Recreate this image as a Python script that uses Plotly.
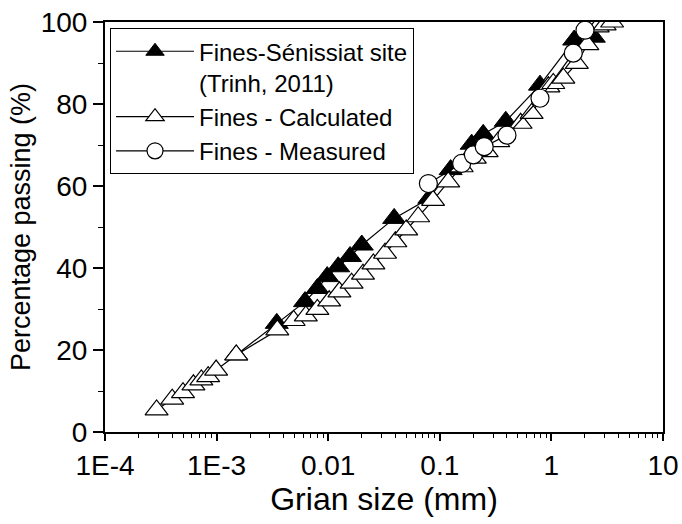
import plotly.graph_objects as go

# ---- data ----
sen_x = [1.5e-3, 3.46e-3, 6.2e-3, 8.0e-3, 9.8e-3, 0.0123, 0.0157, 0.020, 0.039, 0.0805,
         0.125, 0.193, 0.245, 0.39, 0.79, 1.6, 2.4]
sen_y = [18.8, 26.5, 31.8, 35.0, 37.9, 40.3, 42.8, 45.6, 52.1, 57.0,
         64.0, 70.2, 72.6, 75.8, 84.6, 95.6, 96.3]

calc_x = [2.9e-4, 4.0e-4, 5.0e-4, 6.2e-4, 7.3e-4, 8.4e-4, 9.9e-4, 1.5e-3, 3.5e-3, 4.9e-3,
          6.3e-3, 8.0e-3, 0.0102, 0.0126, 0.0162, 0.0205, 0.0254, 0.0323, 0.040, 0.050,
          0.064, 0.087, 0.119, 0.157, 0.206, 0.263, 0.334, 0.53, 0.665, 0.94,
          1.04, 1.28, 1.69, 2.1, 2.6, 3.0, 3.5]
calc_y = [5.4, 8.0, 9.6, 11.5, 12.7, 13.5, 15.1, 18.8, 24.9, 27.2,
          28.3, 29.9, 32.0, 34.2, 36.3, 38.5, 41.0, 43.6, 46.4, 49.3,
          52.5, 56.5, 61.0, 64.7, 66.8, 68.4, 70.8, 75.3, 77.7, 84.2,
          85.0, 86.3, 89.9, 94.5, 98.8, 99.3, 100.0]

meas_x = [0.079, 0.157, 0.20, 0.25, 0.40, 0.79, 1.57, 2.0]
meas_y = [60.6, 65.5, 67.6, 69.6, 72.4, 81.4, 92.4, 98.0]

x_tickvals = [1e-4, 1e-3, 1e-2, 1e-1, 1, 10]
x_ticktext = ["1E-4", "1E-3", "0.01", "0.1", "1", "10"]
y_tickvals = [0, 20, 40, 60, 80, 100]

minor_x = [m * d for d in [1e-4, 1e-3, 1e-2, 1e-1, 1] for m in range(2, 10)]

FONT = "Liberation Sans"

fig = go.Figure()
fig.add_trace(go.Scatter(
    x=sen_x, y=sen_y, mode="lines+markers",
    name="Fines-Sénissiat site<br>(Trinh, 2011)",
    line=dict(color="black", width=1.2),
    marker=dict(symbol="triangle-up", size=20, color="black",
                line=dict(color="black", width=1))))
fig.add_trace(go.Scatter(
    x=calc_x, y=calc_y, mode="lines+markers",
    name="Fines - Calculated",
    line=dict(color="black", width=1.2),
    marker=dict(symbol="triangle-up", size=20, color="white",
                line=dict(color="black", width=1.2))))
fig.add_trace(go.Scatter(
    x=meas_x, y=meas_y, mode="lines+markers",
    name="Fines - Measured",
    line=dict(color="black", width=1.2),
    marker=dict(symbol="circle", size=18, color="white",
                line=dict(color="black", width=1.2))))

fig.update_layout(
    width=682, height=524,
    margin=dict(l=105, r=19, t=22, b=92, autoexpand=False),
    paper_bgcolor="white", plot_bgcolor="white",
    font=dict(family=FONT, color="black", size=28),
    showlegend=True,
    legend=dict(
        x=0.009, y=0.985, xanchor="left", yanchor="top",
        bgcolor="white", bordercolor="black", borderwidth=1,
        font=dict(family=FONT, size=24, color="black"),
        valign="top", itemwidth=78, tracegroupgap=0,
    ),
    xaxis=dict(
        type="log", range=[-4, 1],
        tickmode="array", tickvals=x_tickvals, ticktext=x_ticktext,
        ticks="outside", ticklen=7, tickwidth=1.5, tickcolor="black",
        minor=dict(tickmode="array", tickvals=minor_x, ticks="outside",
                   ticklen=4, tickwidth=1, tickcolor="black"),
        showline=True, linecolor="black", linewidth=2, mirror=True,
        showgrid=False, zeroline=False,
        tickfont=dict(family=FONT, size=28),
        title=dict(text="Grian size (mm)", font=dict(family=FONT, size=32), standoff=2),
    ),
    yaxis=dict(
        range=[0, 100],
        tickmode="array", tickvals=y_tickvals,
        ticks="outside", ticklen=10, tickwidth=1.5, tickcolor="black",
        minor=dict(dtick=10, ticks="outside", ticklen=5, tickwidth=1, tickcolor="black"),
        showline=True, linecolor="black", linewidth=2, mirror=True,
        showgrid=False, zeroline=False,
        tickfont=dict(family=FONT, size=28),
        title=dict(text="Percentage passing (%)", font=dict(family=FONT, size=27), standoff=2),
    ),
    xaxis2=dict(
        type="log", range=[-4, 1], overlaying="x", side="top",
        tickmode="array", tickvals=x_tickvals, showticklabels=False,
        ticks="inside", ticklen=4, tickcolor="black",
        minor=dict(tickmode="array", tickvals=minor_x, ticks="inside",
                   ticklen=2, tickcolor="black"),
        showline=False, showgrid=False, zeroline=False,
    ),
    yaxis2=dict(
        range=[0, 100], overlaying="y", side="right",
        tickmode="array", tickvals=y_tickvals, showticklabels=False,
        ticks="inside", ticklen=4, tickcolor="black",
        minor=dict(dtick=10, ticks="inside", ticklen=3, tickcolor="black"),
        showline=False, showgrid=False, zeroline=False,
    ),
)

fig.write_html("out.html")
